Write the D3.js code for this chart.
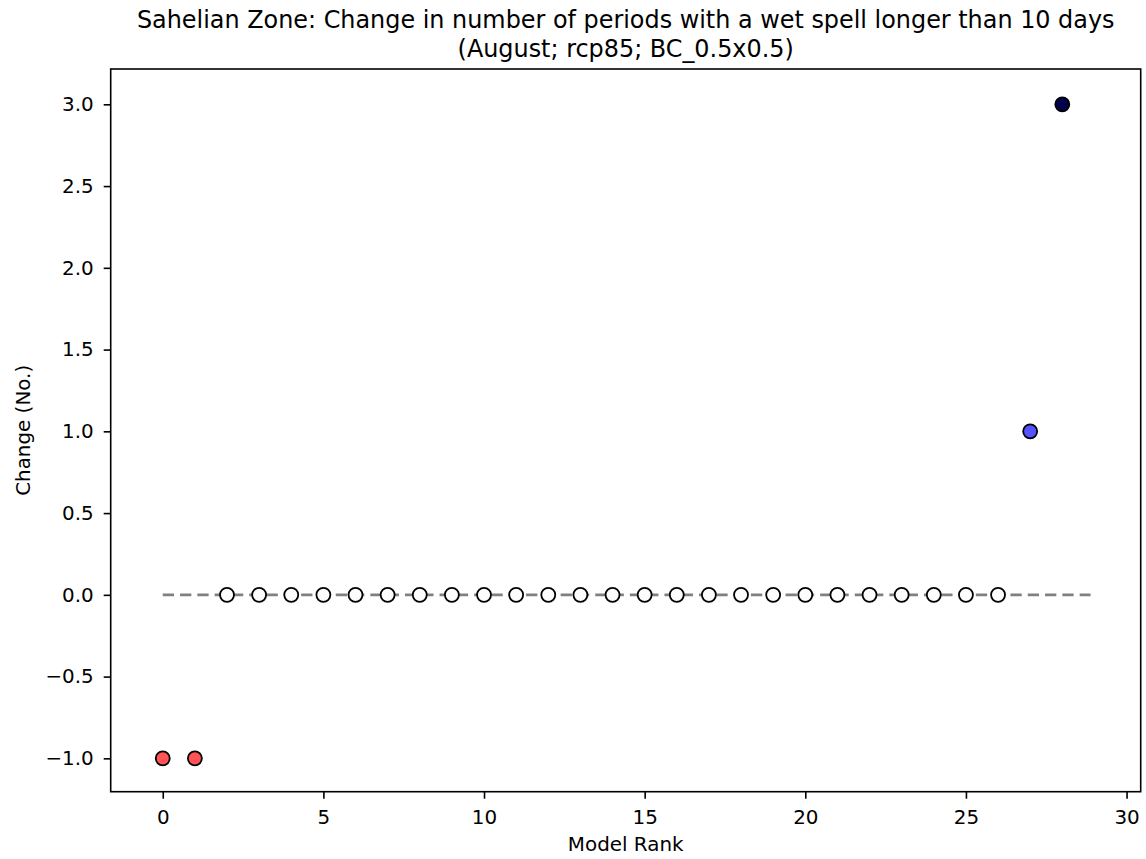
<!DOCTYPE html>
<html>
<head>
<meta charset="utf-8">
<script src="https://cdn.jsdelivr.net/npm/d3@7"></script>
<style>
  body { margin: 0; background: #fff; }
  svg text { font-family: "DejaVu Sans", sans-serif; fill: #000; }
</style>
</head>
<body>
<div class="data_figure"></div>
<script>
// model rank and change values
const ranks = [0, 1, 2, 3, 4, 5, 6, 7, 8, 9, 10, 11, 12, 13, 14, 15, 16, 17, 18, 19, 20, 21, 22, 23, 24, 25, 26, 27, 28];
const changes = [-1, -1, 0, 0, 0, 0, 0, 0, 0, 0, 0, 0, 0, 0, 0, 0, 0, 0, 0, 0, 0, 0, 0, 0, 0, 0, 0, 1, 3];
const zeroLineX = [0, 28.88];
const xTicks = [0, 5, 10, 15, 20, 25, 30];
const yTicks = [-1.0, -0.5, 0.0, 0.5, 1.0, 1.5, 2.0, 2.5, 3.0];
const titleLines = ["Sahelian Zone: Change in number of periods with a wet spell longer than 10 days",
                    "(August; rcp85; BC_0.5x0.5)"];

const width = 1146;
const height = 859;
const margin = { top: 69, bottom: 67.3, left: 110.7, right: 5.3 };

const xScale = d3.scaleLinear()
        .domain([-1.62, 30.44])
        .range([margin.left, width - margin.right]);

const yScale = d3.scaleLinear()
        .domain([-1.204, 3.216])
        .range([height - margin.bottom, margin.top]);

// seismic_r like mapping, -3..3
const colorScale = d3.scaleLinear()
        .domain([-3, -1.5, 0, 1.5, 3])
        .range(["#800000", "#ff0000", "#fdfdff", "#0000ff", "#00004d"]);

let svg = d3.select(".data_figure")
            .append("svg")
            .attr("width", width)
            .attr("height", height);

// zero line
svg.append("line")
    .attr("x1", xScale(zeroLineX[0]))
    .attr("x2", xScale(zeroLineX[1]))
    .attr("y1", yScale(0))
    .attr("y2", yScale(0))
    .attr("stroke", "#808080")
    .attr("stroke-width", 2.8)
    .attr("stroke-dasharray", "11.3,6");

svg.selectAll(".dot")
    .data(ranks)
    .enter()
    .append("circle")
    .attr("class", "dot")
    .attr("cx", (d) => xScale(d))
    .attr("cy", (d, i) => yScale(changes[i]))
    .attr("r", 7.0)
    .attr("fill", (d, i) => colorScale(changes[i]))
    .attr("stroke", "#000")
    .attr("stroke-width", 1.8);

// axes
svg.append("g")
    .attr("transform", "translate(0, " + (height - margin.bottom) + ")")
    .call(d3.axisBottom(xScale).tickValues(xTicks).tickSize(7).tickPadding(11).tickFormat(d3.format("d")))
    .call(g => g.select(".domain").remove())
    .selectAll("text").style("font-size", "19.9px").style("font-family", "DejaVu Sans");

svg.append("g")
    .attr("transform", "translate(" + margin.left + ", 0)")
    .call(d3.axisLeft(yScale).tickValues(yTicks).tickSize(7).tickPadding(10)
            .tickFormat(d => d3.format(".1f")(d).replace("-", "\u2212")))
    .call(g => g.select(".domain").remove())
    .selectAll("text").style("font-size", "19.9px").style("font-family", "DejaVu Sans");

svg.selectAll(".tick line").attr("stroke-width", 1.6);

svg.append("rect")
    .attr("x", margin.left)
    .attr("y", margin.top)
    .attr("width", width - margin.left - margin.right)
    .attr("height", height - margin.top - margin.bottom)
    .attr("fill", "none")
    .attr("stroke", "#000")
    .attr("stroke-width", 1.6);

svg.selectAll(".title")
    .data(titleLines)
    .enter()
    .append("text")
    .attr("class", "title")
    .attr("x", (margin.left + width - margin.right) / 2)
    .attr("y", (d, i) => 28 + i * 28.5)
    .attr("text-anchor", "middle")
    .style("font-size", "23.9px")
    .text(d => d);

svg.append("text")
    .text("Model Rank")
    .attr("x", (margin.left + width - margin.right) / 2)
    .attr("y", 851)
    .attr("text-anchor", "middle")
    .style("font-size", "19.9px");

svg.append("text")
    .text("Change (No.)")
    .attr("transform", "rotate(-90)")
    .attr("x", -(margin.top + height - margin.bottom) / 2)
    .attr("y", 29.5)
    .attr("text-anchor", "middle")
    .style("font-size", "19.9px");
</script>
</body>
</html>
